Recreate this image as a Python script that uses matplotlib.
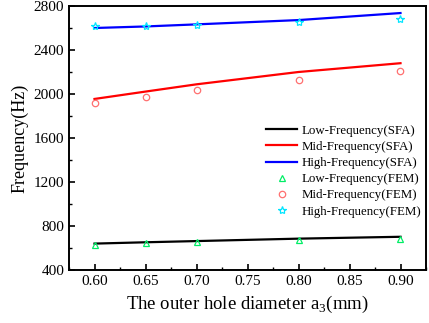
import matplotlib
matplotlib.use("Agg")
import matplotlib.pyplot as plt
from matplotlib.ticker import MultipleLocator, AutoMinorLocator

plt.rcParams['font.family'] = ['Liberation Serif', 'DejaVu Serif']
plt.rcParams['mathtext.fontset'] = 'custom'
plt.rcParams['mathtext.rm'] = 'Liberation Serif'

x_sfa = [0.60, 0.65, 0.70, 0.80, 0.90]
low_sfa = [640, 652, 663, 685, 702]
mid_sfa = [1955, 2022, 2088, 2200, 2280]
high_sfa = [2600, 2614, 2633, 2672, 2736]

x_fem = [0.60, 0.65, 0.70, 0.80, 0.90]
low_fem = [628, 647, 659, 670, 683]
mid_fem = [1921, 1976, 2036, 2125, 2210]
high_fem = [2618, 2620, 2630, 2651, 2681]

fig = plt.figure(figsize=(4.29, 3.23), dpi=100)
ax = fig.add_axes([69/429, 1-270/323, (426-69)/429, (270-6)/323])

ax.plot(x_sfa, low_sfa, color='black', lw=1.6, label='Low-Frequency(SFA)')
ax.plot(x_sfa, mid_sfa, color='red', lw=1.6, label='Mid-Frequency(SFA)')
ax.plot(x_sfa, high_sfa, color='blue', lw=1.6, label='High-Frequency(SFA)')
ax.plot(x_fem, low_fem, ls='none', marker='^', ms=4.8, mfc='none', mec='#00ee66', mew=0.9, label='Low-Frequency(FEM)')
ax.plot(x_fem, mid_fem, ls='none', marker='o', ms=4.6, mfc='none', mec='#ff7070', mew=0.9, label='Mid-Frequency(FEM)')
ax.plot(x_fem, high_fem, ls='none', marker='*', ms=6, mfc='none', mec='#00e5ff', mew=0.9, label='High-Frequency(FEM)')

ax.set_xlim(0.575, 0.925)
ax.set_ylim(400, 2800)
ax.xaxis.set_major_locator(MultipleLocator(0.05))
ax.xaxis.set_minor_locator(AutoMinorLocator(2))
ax.yaxis.set_major_locator(MultipleLocator(400))
ax.yaxis.set_minor_locator(AutoMinorLocator(2))
ax.xaxis.set_major_formatter(matplotlib.ticker.FormatStrFormatter('%.2f'))
ax.tick_params(which='both', direction='in', top=False, right=False, labelsize=11)
ax.tick_params(which='major', length=4, width=1.2)
ax.tick_params(which='minor', length=2, width=1.0)
for s in ax.spines.values():
    s.set_linewidth(1.4)

ax.set_xlabel('The outer hole diameter a$_3$(mm)', fontsize=13.5)
ax.set_ylabel('Frequency(Hz)', fontsize=13)

ax.legend(loc='lower right', bbox_to_anchor=(1.0, 0.179), frameon=False, fontsize=9.3,
          handlelength=2.4, handletextpad=0.3, labelspacing=0.32, borderaxespad=0.0)

fig.savefig('out.png', dpi=100)
